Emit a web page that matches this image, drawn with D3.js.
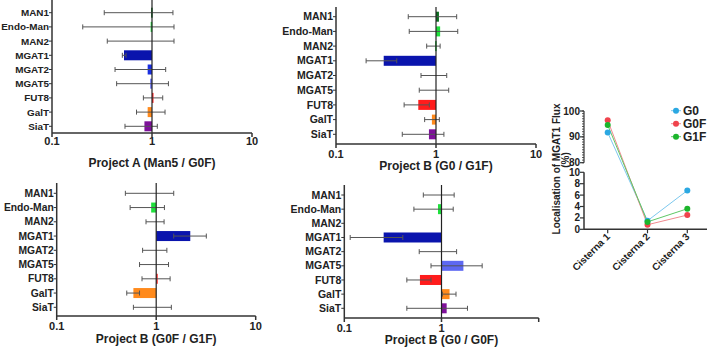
<!DOCTYPE html>
<html>
<head>
<meta charset="utf-8">
<script src="https://cdn.jsdelivr.net/npm/d3@7"></script>
<style>
  body { margin: 0; background: #fff; }
  svg text { font-family: "Liberation Sans", Arial, sans-serif; font-weight: bold; fill: #222; }
</style>
</head>
<body>
<svg id="chart" width="708" height="347"></svg>
<script>
// ---- data ----
const genes = ["MAN1", "Endo-Man", "MAN2", "MGAT1", "MGAT2", "MGAT5", "FUT8", "GalT", "SiaT"];

// Project A (Man5 / G0F)
const ratioA = [0.98, 0.97, 1.0, 0.525, 0.905, 0.96, 1.02, 0.905, 0.84];
const lowA   = [0.333, 0.203, 0.357, 0.505, 0.427, 0.443, 0.82, 0.70, 0.537];
const highA  = [1.62, 1.66, 1.66, 0.55, 1.37, 1.46, 1.28, 1.35, 1.13];

// Project B (G0 / G1F)
const ratioB1 = [1.07, 1.1, 0.98, 0.30, 1.0, 1.0, 0.665, 0.91, 0.85];
const lowB1   = [0.528, 0.54, 0.807, 0.2, 0.708, 0.68, 0.48, 0.77, 0.46];
const highB1  = [1.61, 1.65, 1.1, 0.405, 1.28, 1.34, 0.857, 1.08, 1.2];

// Project B (G0F / G1F)
const ratioB2 = [1.0, 0.89, 1.0, 2.2, 1.0, 1.0, 1.03, 0.59, 1.0];
const lowB2   = [0.49, 0.547, 0.79, 1.5, 0.73, 0.68, 0.72, 0.506, 0.59];
const highB2  = [1.5, 1.21, 1.2, 3.19, 1.28, 1.33, 1.38, 0.68, 1.42];

// Project B (G0 / G0F)
const ratioB3 = [1.0, 0.92, 1.0, 0.254, 1.0, 1.68, 0.60, 1.21, 1.13];
const lowB3   = [0.65, 0.52, null, 0.115, 0.59, 0.78, 0.44, 1.02, 0.44];
const highB3  = [1.35, 1.32, null, 0.40, 1.43, 2.62, 0.78, 1.41, 1.85];

const logTicks = [0.1, 1, 10];

// MGAT1 flux localisation
const cisternae = ["Cisterna 1", "Cisterna 2", "Cisterna 3"];
const fluxG0  = [91.7, 1.5, 6.8];
const fluxG0F = [96.4, 0.8, 2.5];
const fluxG1F = [94.6, 1.3, 3.6];
const upperTicks = [80, 90, 100];
const lowerTicks = [0, 2, 4, 6, 8, 10];

// ---- styles ----
const geneColors = ["#0b6e1f", "#1fe03c", "#1fc83a", "#0a14ad", "#1a2fe0", "#5d68f2", "#ff1c1c", "#ff8a1c", "#7e109a"];
const axisColor = "#333";
const errColor = "#555";

const svg = d3.select("#chart");

function drawPanel(p) {
  const g = svg.append("g");
  const x = d3.scaleLog().domain([0.1, 10]).range([p.x0, p.x1]);
  const y = d3.scalePoint().domain(genes).range([p.yFirst, p.yLast]);
  const rows = genes.map((k, i) => ({gene: k, r: p.ratio[i], lo: p.low[i], hi: p.high[i], c: geneColors[i]}));

  // bars
  g.selectAll("rect.bar")
    .data(rows.filter(d => d.r !== null && d.r !== 1))
    .enter().append("rect")
    .attr("class", "bar")
    .attr("x", d => Math.min(x(d.r), x(1)))
    .attr("width", d => Math.max(1.5, Math.abs(x(d.r) - x(1))))
    .attr("y", d => y(d.gene) - 5)
    .attr("height", 10)
    .attr("fill", d => d.c);

  // error bars
  const e = g.selectAll("g.err").data(rows.filter(d => d.lo !== null)).enter().append("g");
  e.append("line")
    .attr("x1", d => x(d.lo)).attr("x2", d => x(d.hi))
    .attr("y1", d => y(d.gene)).attr("y2", d => y(d.gene))
    .attr("stroke", errColor).attr("stroke-width", 1);
  e.append("line")
    .attr("x1", d => x(d.lo)).attr("x2", d => x(d.lo))
    .attr("y1", d => y(d.gene) - 2.5).attr("y2", d => y(d.gene) + 2.5)
    .attr("stroke", errColor).attr("stroke-width", 1);
  e.append("line")
    .attr("x1", d => x(d.hi)).attr("x2", d => x(d.hi))
    .attr("y1", d => y(d.gene) - 2.5).attr("y2", d => y(d.gene) + 2.5)
    .attr("stroke", errColor).attr("stroke-width", 1);

  // reference line at 1
  g.append("line")
    .attr("x1", x(1)).attr("x2", x(1))
    .attr("y1", p.top).attr("y2", p.axisY)
    .attr("stroke", "#222").attr("stroke-width", 1.2);

  // y axis
  g.append("line")
    .attr("x1", p.x0).attr("x2", p.x0)
    .attr("y1", p.top).attr("y2", p.axisY)
    .attr("stroke", axisColor).attr("stroke-width", 1.5);
  g.selectAll("line.yt").data(genes).enter().append("line")
    .attr("x1", p.x0 - 3).attr("x2", p.x0)
    .attr("y1", d => y(d)).attr("y2", d => y(d))
    .attr("stroke", axisColor);
  g.selectAll("text.yl").data(genes).enter().append("text")
    .attr("x", p.x0 - 3).attr("y", d => y(d))
    .attr("dy", "0.35em").attr("text-anchor", "end")
    .attr("font-size", p.labelSize).text(d => d);

  // x axis
  g.append("line")
    .attr("x1", p.x0).attr("x2", p.x1)
    .attr("y1", p.axisY).attr("y2", p.axisY)
    .attr("stroke", axisColor).attr("stroke-width", 1.5);
  g.selectAll("line.xt").data(logTicks).enter().append("line")
    .attr("x1", d => x(d)).attr("x2", d => x(d))
    .attr("y1", p.axisY).attr("y2", p.axisY + 4)
    .attr("stroke", axisColor).attr("stroke-width", 1.5);
  g.selectAll("text.xl").data(logTicks.filter(t => p.showTen || t < 10)).enter().append("text")
    .attr("x", d => x(d)).attr("y", p.axisY + p.labelDy)
    .attr("text-anchor", "middle").attr("font-size", 11)
    .text(d => d3.format("~g")(d));

  g.append("text")
    .attr("x", (p.x0 + p.x1) / 2).attr("y", p.titleY)
    .attr("text-anchor", "middle").attr("font-size", 12)
    .text(p.title);
}

drawPanel({x0: 52, x1: 252, top: 0, axisY: 133, labelDy: 12, yFirst: 12.7, yLast: 126.3, labelSize: 9.9,
  ratio: ratioA, low: lowA, high: highA, showTen: true, titleY: 167, title: "Project A (Man5 / G0F)"});
drawPanel({x0: 336, x1: 536, top: 7, axisY: 144, labelDy: 14, yFirst: 16.7, yLast: 134.3, labelSize: 10.5,
  ratio: ratioB1, low: lowB1, high: highB1, showTen: true, titleY: 170, title: "Project B (G0 / G1F)"});
drawPanel({x0: 56.7, x1: 255.7, top: 183, axisY: 316, labelDy: 14, yFirst: 193.3, yLast: 307.3, labelSize: 10.3,
  ratio: ratioB2, low: lowB2, high: highB2, showTen: true, titleY: 343, title: "Project B (G0F / G1F)"});
drawPanel({x0: 344.3, x1: 538.7, top: 185, axisY: 318, labelDy: 14, yFirst: 195, yLast: 308.3, labelSize: 10.5,
  ratio: ratioB3, low: lowB3, high: highB3, showTen: false, titleY: 343.5, title: "Project B (G0 / G0F)"});

// ---- MGAT1 flux panel (broken y axis) ----
const fx = d3.scalePoint().domain(cisternae).range([607.7, 687.3]);
const yUp = d3.scaleLinear().domain([80, 100]).range([162.7, 111]);
const yLow = d3.scaleLinear().domain([0, 10]).range([229.3, 172.3]);
const fy = v => v >= 80 ? yUp(v) : yLow(v);
const axX = 584;

const fg = svg.append("g");

// upper axis segment with dense minor ticks
fg.append("line").attr("x1", axX).attr("x2", axX).attr("y1", yUp(100)).attr("y2", yUp(80))
  .attr("stroke", axisColor).attr("stroke-width", 1.2);
fg.selectAll("line.um").data(d3.range(80, 101)).enter().append("line")
  .attr("x1", axX - 2).attr("x2", axX).attr("y1", d => yUp(d)).attr("y2", d => yUp(d))
  .attr("stroke", axisColor).attr("stroke-width", 0.8);
fg.selectAll("line.ut").data(upperTicks).enter().append("line")
  .attr("x1", axX - 4).attr("x2", axX).attr("y1", d => yUp(d)).attr("y2", d => yUp(d))
  .attr("stroke", axisColor).attr("stroke-width", 1.2);
fg.selectAll("text.ul").data(upperTicks).enter().append("text")
  .attr("x", axX - 4).attr("y", d => yUp(d)).attr("dy", "0.35em")
  .attr("text-anchor", "end").attr("font-size", 10).text(d => d);

// lower axis segment
fg.append("line").attr("x1", axX).attr("x2", axX).attr("y1", yLow(10)).attr("y2", yLow(0))
  .attr("stroke", axisColor).attr("stroke-width", 1.5);
fg.selectAll("line.lt").data(lowerTicks).enter().append("line")
  .attr("x1", axX - 4).attr("x2", axX).attr("y1", d => yLow(d)).attr("y2", d => yLow(d))
  .attr("stroke", axisColor).attr("stroke-width", 1.2);
fg.selectAll("text.ll").data(lowerTicks).enter().append("text")
  .attr("x", axX - 4).attr("y", d => yLow(d)).attr("dy", "0.35em")
  .attr("text-anchor", "end").attr("font-size", 10).text(d => d);

// x axis
fg.append("line").attr("x1", axX).attr("x2", 707).attr("y1", yLow(0)).attr("y2", yLow(0))
  .attr("stroke", axisColor).attr("stroke-width", 1.5);
fg.selectAll("line.ct").data(cisternae).enter().append("line")
  .attr("x1", d => fx(d)).attr("x2", d => fx(d)).attr("y1", yLow(0)).attr("y2", yLow(0) + 4)
  .attr("stroke", axisColor).attr("stroke-width", 1.2);
fg.selectAll("text.cl").data(cisternae).enter().append("text")
  .attr("transform", d => `translate(${fx(d) + 3},${yLow(0) + 8}) rotate(-45)`)
  .attr("text-anchor", "end").attr("font-size", 10).text(d => d);

// y title
fg.append("text")
  .attr("transform", `translate(560,169) rotate(-90)`)
  .attr("text-anchor", "middle").attr("font-size", 10)
  .text("Localisation of MGAT1 Flux");
fg.append("text")
  .attr("transform", `translate(569,160) rotate(-90)`)
  .attr("text-anchor", "middle").attr("font-size", 10)
  .text("(%)");

const fluxSeries = [
  {name: "G0", values: fluxG0, color: "#2ba8e2", line: "#7cc8ee"},
  {name: "G0F", values: fluxG0F, color: "#f0434c", line: "#f08a8f"},
  {name: "G1F", values: fluxG1F, color: "#1cb52c", line: "#5ec866"}
];

const lineGen = d3.line().x((d, i) => fx(cisternae[i])).y(d => fy(d));
fg.selectAll("path.fl").data(fluxSeries).enter().append("path")
  .attr("d", d => lineGen(d.values))
  .attr("fill", "none").attr("stroke", d => d.line).attr("stroke-width", 1);
fluxSeries.forEach(s => {
  fg.selectAll(null).data(s.values).enter().append("circle")
    .attr("cx", (d, i) => fx(cisternae[i])).attr("cy", d => fy(d))
    .attr("r", 3).attr("fill", s.color);
});

// legend
const lg = fg.selectAll("g.lg").data(fluxSeries).enter().append("g")
  .attr("transform", (d, i) => `translate(676,${110.7 + i * 13})`);
lg.append("line").attr("x1", -5).attr("x2", 5).attr("y1", 0).attr("y2", 0)
  .attr("stroke", d => d.line).attr("stroke-width", 1);
lg.append("circle").attr("r", 3).attr("fill", d => d.color);
lg.append("text").attr("x", 7).attr("dy", "0.35em").attr("font-size", 12).text(d => d.name);
</script>
</body>
</html>
